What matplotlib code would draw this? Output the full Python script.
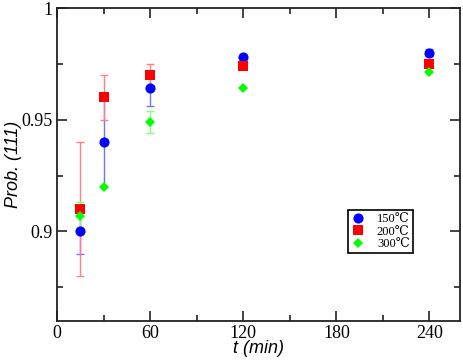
import matplotlib
matplotlib.use("Agg")
import matplotlib.pyplot as plt
from matplotlib.ticker import FixedLocator, FuncFormatter

# time points (min)
t_min = [15, 30, 60, 120, 240]

# Prob. (111) per annealing temperature, with error bars
prob_150 = [0.900, 0.940, 0.964, 0.978, 0.980]
err_150 = [0.010, 0.020, 0.008, 0.000, 0.0015]
prob_200 = [0.910, 0.960, 0.970, 0.974, 0.975]
err_200 = [0.030, 0.010, 0.005, 0.000, 0.000]
prob_300 = [0.907, 0.920, 0.949, 0.964, 0.9715]
err_300 = [0.006, 0.000, 0.005, 0.000, 0.000]

labels = ["150\u2103", "200\u2103", "300\u2103"]
x_ticks = [0, 60, 120, 180, 240]
y_ticks = [0.9, 0.95, 1.0]

serif = ["Liberation Serif", "DejaVu Serif", "DejaVu Sans"]
sans = ["Liberation Sans", "DejaVu Sans"]

fig = plt.figure(figsize=(4.63, 3.61), dpi=100)
ax = fig.add_axes([0.1231, 0.1116, 0.8715, 0.8662])

series = [
    (prob_150, err_150, "#0000ff", (0.45, 0.45, 1.0), "o", 7.3),
    (prob_200, err_200, "#ff0000", (1.0, 0.5, 0.5), "s", 6.5),
    (prob_300, err_300, "#00ff00", (0.5, 1.0, 0.5), "D", 5.5),
]

for (vals, errs, col, ecol, mk, ms) in series:
    ax.errorbar(t_min, vals, yerr=errs, fmt="none", ecolor=ecol,
                elinewidth=1.0, capsize=3, capthick=1.0, zorder=2)

for (vals, errs, col, ecol, mk, ms), lab in zip(series, labels):
    ax.plot(t_min, vals, linestyle="none", marker=mk, markersize=ms,
            color=col, markeredgewidth=0, label=lab, zorder=3)

ax.set_xlim(0, 260)
ax.set_ylim(0.86, 1.0)

ax.xaxis.set_major_locator(FixedLocator(x_ticks))
ax.xaxis.set_minor_locator(FixedLocator([30, 90, 150, 210]))
ax.yaxis.set_major_locator(FixedLocator(y_ticks))
ax.yaxis.set_minor_locator(FixedLocator([0.875, 0.925, 0.975]))
ax.yaxis.set_major_formatter(FuncFormatter(lambda v, p: f"{v:g}"))

ax.tick_params(which="both", direction="in", top=True, right=True,
               width=1.2, color="#222222")
ax.tick_params(which="major", length=7, labelsize=13, pad=3)
ax.tick_params(which="minor", length=4)
for lbl in ax.get_xticklabels() + ax.get_yticklabels():
    lbl.set_family(serif)

for sp in ax.spines.values():
    sp.set_linewidth(1.3)
    sp.set_color("#222222")

ax.set_xlabel("t (min)", fontsize=13, style="italic", family=sans,
              labelpad=-1)
ax.set_ylabel("Prob. (111)", fontsize=13, style="italic", family=sans,
              labelpad=0)

leg = ax.legend(loc="lower left", bbox_to_anchor=(0.72, 0.215),
                prop={"family": serif, "size": 9}, frameon=True,
                fancybox=False, edgecolor="black", framealpha=1,
                handletextpad=0.9, borderpad=0.25, labelspacing=0.05,
                handlelength=1.2, markerscale=1.0, borderaxespad=0)
leg.get_frame().set_linewidth(1.2)

fig.savefig("out.png", dpi=100)
